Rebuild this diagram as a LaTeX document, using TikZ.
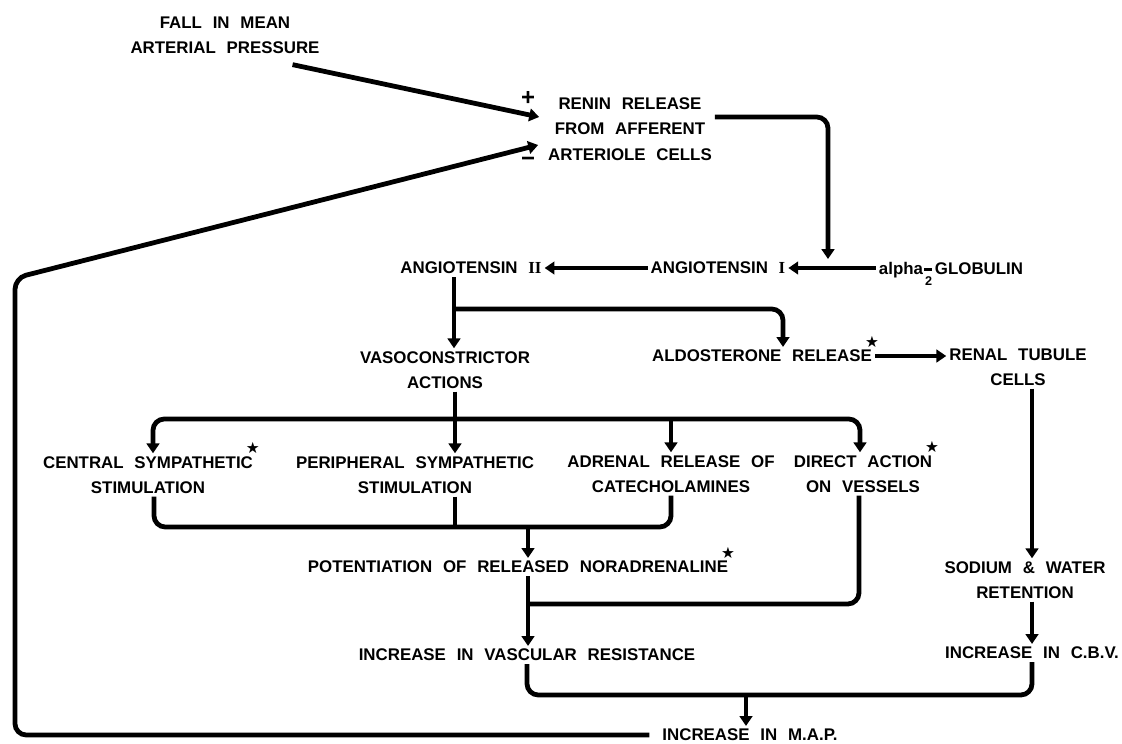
\documentclass[tikz,border=0pt]{standalone}
\usepackage{fontspec}
\setmainfont{Liberation Sans}[WordSpace=2.3]
\newfontfamily\serfont{Liberation Serif}
\newfontfamily\symfont{DejaVu Sans}
\usetikzlibrary{arrows.meta}
\usetikzlibrary{calc}
\newcommand\mstar{\makebox[0pt][c]{\raisebox{10.5pt}[0pt][0pt]{\symfont\fontsize{11}{11}\selectfont ★}}}

\begin{document}
\begin{tikzpicture}[x=0.025cm, y=-0.025cm,
    lbl/.style={font=\fontsize{12}{18}\selectfont\bfseries, align=center, inner sep=2pt},
    sign/.style={font=\fontsize{17}{17}\selectfont\bfseries, inner sep=0pt},
    flow/.style={line width=3.4pt, rounded corners=8pt},
    tip/.style={flow, -{Triangle[width=9pt,length=7pt]}}]
  \useasboundingbox (0,0) rectangle (1122,743);

  \node[lbl] (fall) at (225,35) {FALL IN MEAN\\ARTERIAL PRESSURE};
  \node[lbl] (renin) at (630,129) {RENIN RELEASE\\FROM AFFERENT\\ARTERIOLE CELLS};
  \node[sign] (plus) at (528,98) {+};
  \node[sign] (minus) at (528,162) {−};
  \node[lbl] (ang2) at (471,268) {ANGIOTENSIN {\serfont II}};
  \node[lbl] (ang1) at (718,268) {ANGIOTENSIN {\serfont I}};
  \node[lbl, text depth=0pt] (glob) at (951,268) {alpha\kern1pt\makebox[0pt][l]{\kern0.5pt\raisebox{-8pt}[0pt][0pt]{\fontsize{9}{9}\selectfont 2}}\raisebox{2.5pt}{\rule{5.5pt}{1.6pt}}\kern2pt GLOBULIN};
  \node[lbl] (vaso) at (445,370) {VASOCONSTRICTOR\\ACTIONS};
  \node[lbl] (aldo) at (762,356) {ALDOSTERONE RELEASE\mstar};
  \node[lbl] (renal) at (1018,367) {RENAL TUBULE\\CELLS};
  \node[lbl] (central) at (148,475) {CENTRAL SYMPATHETIC\mstar\\STIMULATION};
  \node[lbl] (periph) at (415,475) {PERIPHERAL SYMPATHETIC\\STIMULATION};
  \node[lbl] (adrenal) at (671,474) {ADRENAL RELEASE OF\\CATECHOLAMINES};
  \node[lbl] (direct) at (863,474) {DIRECT ACTION\mstar\\ON VESSELS};
  \node[lbl] (potent) at (518,567) {POTENTIATION OF RELEASED NORADRENALINE\mstar};
  \node[lbl] (vasc) at (527,655) {INCREASE IN VASCULAR RESISTANCE};
  \node[lbl] (sodium) at (1025,580) {SODIUM \& WATER\\RETENTION};
  \node[lbl] (cbv) at (1032,653) {INCREASE IN C.B.V.};
  \node[lbl] (map) at (750,735) {INCREASE IN M.A.P.};

  \coordinate (join1) at (828,259);
  \coordinate (split1) at (454,309);
  \coordinate (split2) at (455,419);
  \coordinate (merge1) at (528,527);
  \coordinate (merge2) at (528,604);
  \coordinate (merge3) at (746,695);

  \draw[tip] ($(fall.south east)+(-30,8)$) -- ($(renin.west)+(-6,-12)$);
  \draw[tip] ($(map.west)+(-10,0)$) -| (15,278) -- ($(renin.west)+(-7,16)$);
  \draw[tip] ($(renin.east)+(0,-12)$) -| (join1);
  \draw[tip] (glob.west) -- (ang1.east);
  \draw[tip] (ang1.west) -- (ang2.east);
  \draw[tip] (ang2.south -| split1) -- (vaso.north -| split1);
  \draw[tip] (split1) -| ($(aldo.north)+(21,0)$);
  \draw[tip] (aldo.east) -- (aldo.east -| renal.west);
  \draw[tip] (renal.south -| cbv.north) -- (sodium.north -| cbv.north);
  \draw[tip] (sodium.south -| cbv.north) -- (cbv.north);
  \draw[tip] (vaso.south -| split2) -- (periph.north -| split2);
  \draw[tip] (split2) -| ($(central.north)+(5,0)$);
  \draw[tip] (split2) -| ($(direct.north)+(-3,0)$);
  \draw[tip] (adrenal.north |- split2) -- (adrenal.north);
  \draw[flow] ($(central.south)+(6,0)$) |- (merge1) -| (adrenal.south);
  \draw[flow] (periph.south -| split2) -- (merge1 -| split2);
  \draw[tip] (merge1) -- (potent.north -| merge1);
  \draw[tip] (potent.south -| merge2) -- (vasc.north -| merge2);
  \draw[flow] ($(direct.south)+(-4,0)$) |- (merge2);
  \draw[flow] (vasc.south) |- (merge3) -| (cbv.south);
  \draw[tip] (merge3) -- (map.north -| merge3);
\end{tikzpicture}
\end{document}
